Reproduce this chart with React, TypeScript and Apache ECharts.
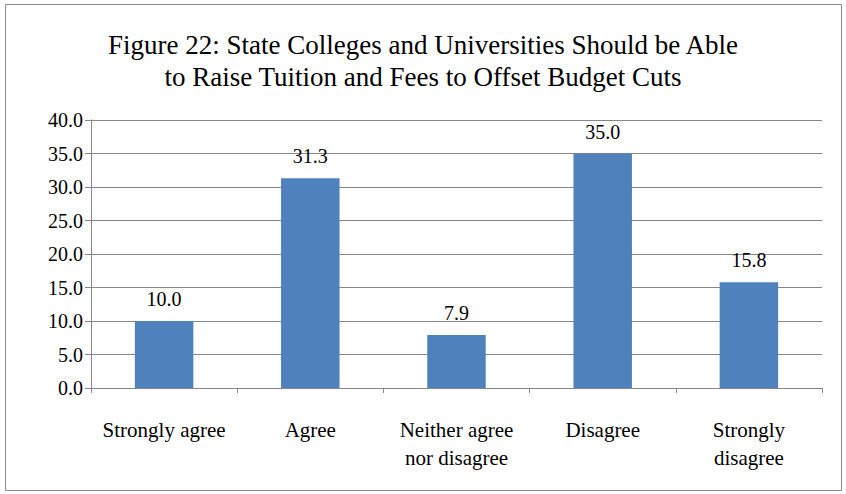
import React, { useEffect, useRef } from "react";
import * as echarts from "echarts";

const categories = ["Strongly agree", "Agree", "Neither agree\nnor disagree", "Disagree", "Strongly\ndisagree"];
const values = [10.0, 31.3, 7.9, 35.0, 15.8];
const titleText = "Figure 22: State Colleges and Universities Should be Able\nto Raise Tuition and Fees to Offset Budget Cuts";

const FONT = "Liberation Serif";

export default function App() {
  const ref = useRef<HTMLDivElement>(null);
  useEffect(() => {
    if (!ref.current) return;
    const chart = echarts.init(ref.current, null, { renderer: "svg" });
    chart.setOption({
      animation: false,
      backgroundColor: "#ffffff",
      title: {
        text: titleText,
        left: "center",
        top: 24,
        textStyle: { fontFamily: FONT, fontSize: 27, fontWeight: "normal", color: "#000", lineHeight: 32 },
      },
      graphic: [
        {
          type: "rect",
          shape: { x: 5.5, y: 4.5, width: 836, height: 486 },
          style: { fill: "none", stroke: "#8c8c8c", lineWidth: 1 },
          silent: true,
        },
      ],
      grid: { left: 91, right: 24, top: 120, bottom: 106, containLabel: false },
      xAxis: {
        type: "category",
        data: categories,
        axisLine: { lineStyle: { color: "#868686", width: 1 } },
        axisTick: { show: true, alignWithLabel: false, length: 5, lineStyle: { color: "#868686" } },
        axisLabel: { fontFamily: FONT, fontSize: 21, color: "#000", margin: 28, lineHeight: 28, interval: 0 },
      },
      yAxis: {
        type: "value",
        min: 0,
        max: 40,
        interval: 5,
        axisLine: { show: true, lineStyle: { color: "#868686", width: 1 } },
        axisTick: { show: true, length: 6, lineStyle: { color: "#868686" } },
        splitLine: { lineStyle: { color: "#868686", width: 1 } },
        axisLabel: { fontFamily: FONT, fontSize: 20, color: "#000", margin: 8, formatter: (v: number) => v.toFixed(1) },
      },
      series: [
        {
          type: "bar",
          data: values,
          barWidth: "40%",
          itemStyle: { color: "#4f81bd" },
          label: {
            show: true,
            position: "top",
            distance: 12,
            fontFamily: FONT,
            fontSize: 20,
            color: "#000",
            formatter: (p: any) => Number(p.value).toFixed(1),
          },
        },
      ],
    });
    return () => chart.dispose();
  }, []);
  return <div ref={ref} style={{ position: "absolute", left: 0, top: 0, width: 846, height: 494 }} />;
}
